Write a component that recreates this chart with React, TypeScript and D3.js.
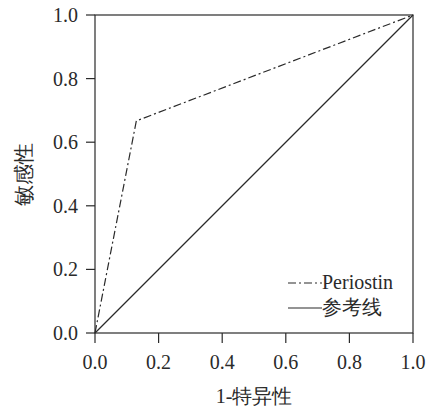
import React from 'react';
import * as d3 from 'd3';

// ROC points
const periostinFpr = [0, 0.13, 1];
const periostinTpr = [0, 0.667, 1];
const refFpr = [0, 1];
const refTpr = [0, 1];
const tickValues = [0, 0.2, 0.4, 0.6, 0.8, 1.0];
const legendLabels = ['Periostin', '参考线'];
const xTitle = '1-特异性';
const yTitle = '敏感性';

const W = 428;
const H = 409;
const margin = { left: 95, right: 15, top: 15, bottom: 76 };
const serif = 'Liberation Serif';
const ink = '#2a2a2a';
const dash = '8,3,2,3';

const x = d3.scaleLinear().domain([0, 1]).range([margin.left, W - margin.right]);
const y = d3.scaleLinear().domain([0, 1]).range([H - margin.bottom, margin.top]);
const fmt = d3.format('.1f');
const line = d3.line<[number, number]>().x(d => x(d[0])).y(d => y(d[1]));

const App = () => {
    const refPath = line(refFpr.map((v, i) => [v, refTpr[i]] as [number, number])) || '';
    const perPath = line(periostinFpr.map((v, i) => [v, periostinTpr[i]] as [number, number])) || '';
    const lx = 288;
    const ly = [283, 308];

    return (
        <div style={{ position: 'absolute', left: 0, top: 0, fontFamily: serif }}>
            <svg width={W} height={H} fontFamily={serif}>
                <rect x={x(0)} y={y(1)} width={x(1) - x(0)} height={y(0) - y(1)}
                    fill="none" stroke={ink} strokeWidth={1.2} />

                {tickValues.map(t => (
                    <g key={'x' + t} transform={`translate(${x(t)},${y(0)})`}>
                        <line y2={10} stroke={ink} strokeWidth={1.2} />
                        <text y={36} textAnchor="middle" fill={ink}
                            fontFamily={serif} fontSize={20}>{fmt(t)}</text>
                    </g>
                ))}

                {tickValues.map(t => (
                    <g key={'y' + t} transform={`translate(${x(0)},${y(t)})`}>
                        <line x2={-9} stroke={ink} strokeWidth={1.2} />
                        <text x={-17} y={7} textAnchor="end" fill={ink}
                            fontFamily={serif} fontSize={20}>{fmt(t)}</text>
                    </g>
                ))}

                <path d={refPath} fill="none" stroke={ink} strokeWidth={1.2} />
                <path d={perPath} fill="none" stroke={ink} strokeWidth={1.2} strokeDasharray={dash} />

                {legendLabels.map((lab, i) => (
                    <g key={lab}>
                        <line x1={lx} x2={lx + 34} y1={ly[i]} y2={ly[i]} stroke={ink} strokeWidth={1.2}
                            strokeDasharray={i === 0 ? dash : undefined} />
                        <text x={lx + 34} y={ly[i] + 6} fill={ink}
                            fontFamily={serif} fontSize={20}>{lab}</text>
                    </g>
                ))}

                <text x={(x(0) + x(1)) / 2} y={403} textAnchor="middle" fill={ink}
                    fontFamily={serif} fontSize={20}>{xTitle}</text>
                <text transform={`translate(31,${(y(0) + y(1)) / 2}) rotate(-90)`}
                    textAnchor="middle" fill={ink} fontFamily={serif} fontSize={21}>{yTitle}</text>
            </svg>
        </div>
    );
};

export default App;
